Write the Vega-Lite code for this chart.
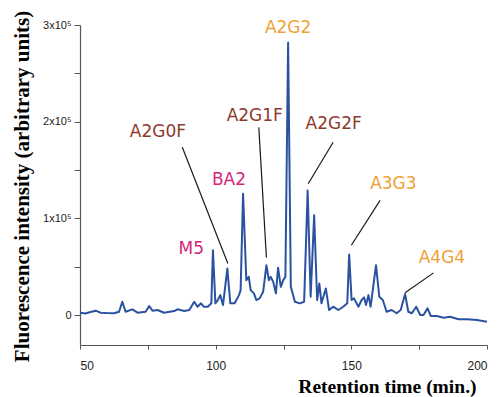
{
  "$schema": "https://vega.github.io/schema/vega-lite/v6.json",
  "width": 407,
  "height": 320,
  "autosize": {"type": "none"},
  "padding": {"left": 80, "top": 25, "right": 10, "bottom": 52},
  "background": "white",
  "config": {"view": {"stroke": null}},
  "datasets": {
    "trace": [
      {"t": 50.0, "f": 2400}, {"t": 52.0, "f": 1500}, {"t": 53.5, "f": 2800}, {"t": 55.8, "f": 4500},
      {"t": 57.6, "f": 2400}, {"t": 60.0, "f": 2000}, {"t": 62.6, "f": 1800}, {"t": 64.4, "f": 3400},
      {"t": 65.6, "f": 13700}, {"t": 66.8, "f": 3400}, {"t": 69.3, "f": 5900}, {"t": 71.2, "f": 2400},
      {"t": 74.2, "f": 3400}, {"t": 75.5, "f": 9300}, {"t": 76.7, "f": 4500}, {"t": 78.6, "f": 5200},
      {"t": 81.0, "f": 2400}, {"t": 84.7, "f": 4100}, {"t": 85.9, "f": 5900}, {"t": 88.4, "f": 4100},
      {"t": 90.3, "f": 5200}, {"t": 92.1, "f": 13700}, {"t": 93.3, "f": 8600}, {"t": 94.6, "f": 12100},
      {"t": 95.6, "f": 8600}, {"t": 97.1, "f": 8600}, {"t": 98.4, "f": 12100}, {"t": 99.0, "f": 67000},
      {"t": 99.9, "f": 12100}, {"t": 100.8, "f": 15500}, {"t": 101.7, "f": 20600}, {"t": 102.7, "f": 10300},
      {"t": 104.3, "f": 48100}, {"t": 105.4, "f": 12100}, {"t": 107.0, "f": 12100}, {"t": 108.6, "f": 20600},
      {"t": 109.2, "f": 25800}, {"t": 110.1, "f": 125500}, {"t": 111.3, "f": 36100}, {"t": 112.2, "f": 39500},
      {"t": 112.9, "f": 25800}, {"t": 114.1, "f": 22400}, {"t": 115.0, "f": 15500}, {"t": 116.2, "f": 17200},
      {"t": 117.5, "f": 24000}, {"t": 118.7, "f": 51500}, {"t": 119.6, "f": 36100}, {"t": 120.3, "f": 39500},
      {"t": 121.2, "f": 34300}, {"t": 122.2, "f": 22400}, {"t": 123.0, "f": 49000}, {"t": 124.0, "f": 29200},
      {"t": 124.9, "f": 36100}, {"t": 125.7, "f": 39500}, {"t": 126.7, "f": 281800}, {"t": 127.7, "f": 29200},
      {"t": 129.2, "f": 13700}, {"t": 131.0, "f": 12100}, {"t": 132.6, "f": 13700}, {"t": 133.9, "f": 128900},
      {"t": 135.0, "f": 18900}, {"t": 136.3, "f": 103100}, {"t": 137.4, "f": 15500}, {"t": 138.2, "f": 32700},
      {"t": 139.0, "f": 12100}, {"t": 140.6, "f": 27500}, {"t": 141.8, "f": 5200}, {"t": 143.3, "f": 8600},
      {"t": 145.2, "f": 5200}, {"t": 147.0, "f": 8600}, {"t": 148.5, "f": 12100}, {"t": 149.2, "f": 62500},
      {"t": 150.1, "f": 15500}, {"t": 151.0, "f": 17200}, {"t": 152.6, "f": 8600}, {"t": 153.8, "f": 15500},
      {"t": 154.7, "f": 18200}, {"t": 155.4, "f": 10300}, {"t": 156.3, "f": 20600}, {"t": 157.1, "f": 8600},
      {"t": 159.1, "f": 51500}, {"t": 160.3, "f": 18900}, {"t": 161.6, "f": 15500}, {"t": 163.0, "f": 3400},
      {"t": 164.9, "f": 5200}, {"t": 166.7, "f": 1800}, {"t": 168.2, "f": 5200}, {"t": 169.8, "f": 21700},
      {"t": 171.0, "f": 3400}, {"t": 172.3, "f": 1800}, {"t": 173.9, "f": 8600}, {"t": 175.4, "f": 0},
      {"t": 176.6, "f": 0}, {"t": 178.1, "f": 6900}, {"t": 179.3, "f": -1000}, {"t": 181.5, "f": -1000},
      {"t": 184.0, "f": -2800}, {"t": 186.4, "f": -1800}, {"t": 189.5, "f": -4400}, {"t": 192.6, "f": -4400},
      {"t": 196.3, "f": -5200}, {"t": 200.0, "f": -6900}
    ],
    "labels": [
      {"name": "M5", "group": "magenta", "t": 91.0, "f": 68800},
      {"name": "BA2", "group": "magenta", "t": 104.9, "f": 139200},
      {"name": "A2G0F", "group": "brown", "t": 78.7, "f": 189000},
      {"name": "A2G1F", "group": "brown", "t": 114.4, "f": 206200},
      {"name": "A2G2", "group": "orange", "t": 126.7, "f": 297200},
      {"name": "A2G2F", "group": "brown", "t": 143.5, "f": 198000},
      {"name": "A3G3", "group": "orange", "t": 165.5, "f": 135800},
      {"name": "A4G4", "group": "orange", "t": 183.4, "f": 58500}
    ],
    "leaders": [
      {"t1": 87.7, "f1": 173500, "t2": 104.5, "f2": 53300},
      {"t1": 115.9, "f1": 194100, "t2": 118.7, "f2": 59500},
      {"t1": 143.3, "f1": 178700, "t2": 134.1, "f2": 135800},
      {"t1": 160.6, "f1": 118600, "t2": 150.0, "f2": 72200},
      {"t1": 180.3, "f1": 43600, "t2": 169.8, "f2": 23000}
    ]
  },
  "layer": [
    {
      "data": {"name": "trace"},
      "mark": {"type": "line", "color": "#2b52a1", "strokeWidth": 2, "strokeJoin": "round"},
      "encoding": {
        "x": {
          "field": "t", "type": "quantitative",
          "scale": {"domain": [50, 200], "nice": false, "zero": false},
          "axis": {
            "values": [50, 75, 100, 125, 150, 175, 200],
            "labelExpr": "datum.value % 50 === 0 ? datum.label : ''",
            "grid": false,
            "domainColor": "#555555", "tickColor": "#555555", "domainWidth": 1.2,
            "tickSize": 4,
            "labelFont": "Liberation Sans", "labelFontSize": 12, "labelColor": "#222222",
            "labelPadding": 11,
            "title": "Retention time (min.)",
            "titleFont": "Liberation Serif", "titleFontSize": 19.5, "titleFontWeight": "bold",
            "titleColor": "#000000",
            "titleAlign": "right", "titleAnchor": null,
            "titleX": 396, "titleY": 47, "titleBaseline": "alphabetic"
          }
        },
        "y": {
          "field": "f", "type": "quantitative",
          "scale": {"domain": [-31000, 300000], "nice": false, "zero": false},
          "axis": {
            "values": [0, 50000, 100000, 150000, 200000, 250000, 300000],
            "labelExpr": "datum.value === 0 ? '0' : (datum.value % 100000 === 0 ? (datum.value / 100000) + 'x10⁵' : '')",
            "grid": false,
            "domainColor": "#555555", "tickColor": "#555555", "domainWidth": 1.2,
            "tickSize": 6,
            "labelFont": "Liberation Sans", "labelFontSize": 11, "labelColor": "#222222",
            "labelPadding": 3,
            "title": "Fluorescence intensity (arbitrary units)",
            "titleFont": "Liberation Serif", "titleFontSize": 21, "titleFontWeight": "bold",
            "titleColor": "#000000",
            "titleAngle": -90, "titleBaseline": "middle", "titleAlign": "center",
            "titleX": -58, "titleY": 161
          }
        }
      }
    },
    {
      "data": {"name": "leaders"},
      "mark": {"type": "rule", "color": "#1a1a1a", "strokeWidth": 1.2},
      "encoding": {
        "x": {"field": "t1", "type": "quantitative"},
        "y": {"field": "f1", "type": "quantitative"},
        "x2": {"field": "t2"},
        "y2": {"field": "f2"}
      }
    },
    {
      "data": {"name": "labels"},
      "mark": {"type": "text", "font": "DejaVu Sans", "fontSize": 17, "align": "center", "baseline": "middle"},
      "encoding": {
        "x": {"field": "t", "type": "quantitative"},
        "y": {"field": "f", "type": "quantitative"},
        "text": {"field": "name"},
        "color": {
          "field": "group", "type": "nominal", "legend": null,
          "scale": {"domain": ["magenta", "brown", "orange"], "range": ["#d4287c", "#8c3a2c", "#f0a035"]}
        }
      }
    }
  ]
}
